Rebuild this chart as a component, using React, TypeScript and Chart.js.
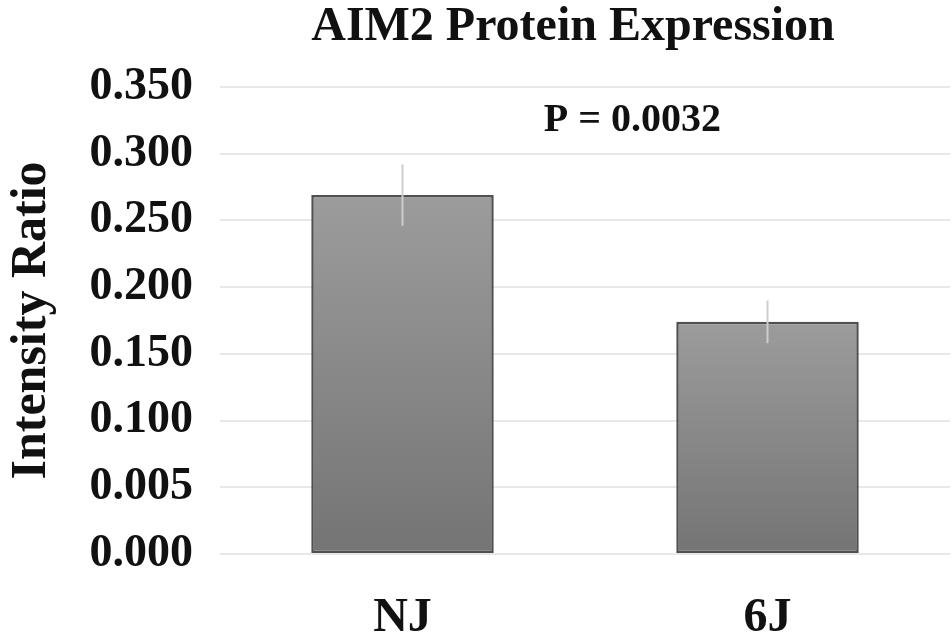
import React, { useEffect, useRef } from "react";
import { Chart, registerables } from "chart.js";

Chart.register(...registerables);

const categories = ["NJ", "6J"];
const intensityRatio = [0.269, 0.174];
const errorMargin = [0.023, 0.016];
const yTickValues = [0, 0.05, 0.1, 0.15, 0.2, 0.25, 0.3, 0.35];
const yTickLabels = ["0.000", "0.005", "0.100", "0.150", "0.200", "0.250", "0.300", "0.350"];
const chartTitle = "AIM2 Protein Expression";
const yAxisTitle = "Intensity Ratio";
const pValueText = "P = 0.0032";
const pValueAnchor = { x: 0.63, y: 0.325 };

const SERIF = '"Liberation Serif", "Times New Roman", Times, serif';

const titlePlugin = {
  id: "centeredTitle",
  afterDraw(chart: any) {
    const { ctx, chartArea } = chart;
    ctx.save();
    ctx.font = `bold 48px ${SERIF}`;
    ctx.fillStyle = "#111";
    ctx.textAlign = "center";
    ctx.textBaseline = "middle";
    ctx.fillText(chartTitle, (chartArea.left + chartArea.right) / 2 - 12, 28);
    ctx.restore();
  },
};

const errorBarPlugin = {
  id: "errorBars",
  afterDatasetsDraw(chart: any) {
    const { ctx } = chart;
    const meta = chart.getDatasetMeta(0);
    const y = chart.scales.y;
    ctx.save();
    ctx.strokeStyle = "#cdcdcd";
    ctx.lineWidth = 2;
    meta.data.forEach((bar: any, i: number) => {
      const v = intensityRatio[i];
      const e = errorMargin[i];
      const yt = y.getPixelForValue(v + e);
      const yb = y.getPixelForValue(v - e);
      ctx.beginPath();
      ctx.moveTo(bar.x, yt);
      ctx.lineTo(bar.x, yb);
      ctx.stroke();
    });
    ctx.restore();
  },
};

const annotationPlugin = {
  id: "pValue",
  afterDraw(chart: any) {
    const { ctx } = chart;
    const x = chart.scales.x.getPixelForValue(pValueAnchor.x);
    const y = chart.scales.y.getPixelForValue(pValueAnchor.y);
    ctx.save();
    ctx.font = `bold 40px ${SERIF}`;
    ctx.fillStyle = "#111";
    ctx.textAlign = "center";
    ctx.textBaseline = "middle";
    ctx.fillText(pValueText, x, y);
    ctx.restore();
  },
};

export default function App() {
  const ref = useRef<HTMLCanvasElement | null>(null);

  useEffect(() => {
    if (!ref.current) return;
    const chart = new Chart(ref.current, {
      type: "bar",
      data: {
        labels: categories,
        datasets: [
          {
            label: "Intensity Ratio",
            data: intensityRatio,
            backgroundColor: (c: any) => {
              const chart = c.chart;
              const area = chart.chartArea;
              if (!area || c.raw == null) return "#888";
              const ys = chart.scales.y;
              const top = ys.getPixelForValue(c.raw);
              const base = ys.getPixelForValue(0);
              const g = chart.ctx.createLinearGradient(0, top, 0, base);
              g.addColorStop(0, "#9c9c9c");
              g.addColorStop(1, "#747474");
              return g;
            },
            borderColor: "#505050",
            borderWidth: 2.5,
            borderSkipped: false,
            categoryPercentage: 1,
            barPercentage: 0.5,
          },
        ],
      },
      options: {
        animation: false,
        responsive: true,
        maintainAspectRatio: false,
        layout: { padding: { top: 87, right: 2, left: 0, bottom: 0 } },
        plugins: {
          legend: { display: false },
          title: { display: false },
          tooltip: { enabled: false },
        },
        scales: {
          x: {
            grid: { display: false, drawTicks: false },
            border: { display: false },
            ticks: {
              color: "#111",
              padding: 36,
              font: { family: SERIF, size: 48, weight: "bold" },
            },
            afterFit(scale: any) {
              scale.height = 85;
            },
          },
          y: {
            min: 0,
            max: 0.35,
            grid: { color: "#e8e8e8", lineWidth: 2, drawTicks: false },
            border: { display: false },
            ticks: {
              stepSize: 0.05,
              autoSkip: false,
              padding: 27,
              color: "#111",
              font: { family: SERIF, size: 46, weight: "bold" },
              callback: (value: any) => {
                const idx = yTickValues.findIndex((t) => Math.abs(t - Number(value)) < 1e-9);
                return idx >= 0 ? yTickLabels[idx] : "";
              },
            },
            title: {
              display: true,
              text: yAxisTitle,
              color: "#111",
              padding: { top: 2, bottom: 0 },
              font: { family: SERIF, size: 50, weight: "bold" },
            },
            afterFit(scale: any) {
              scale.width = 220;
            },
          },
        },
      },
      plugins: [errorBarPlugin, annotationPlugin, titlePlugin],
    });
    return () => chart.destroy();
  }, []);

  return (
    <div style={{ position: "fixed", left: 0, top: 0, width: 952, height: 639, background: "#fff" }}>
      <canvas ref={ref} />
    </div>
  );
}
